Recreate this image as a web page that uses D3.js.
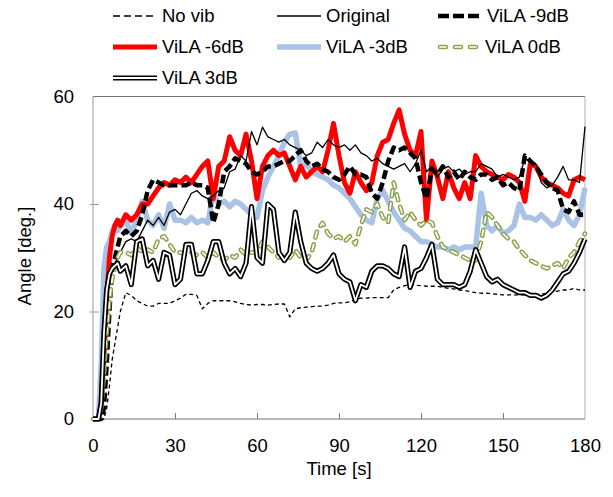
<!DOCTYPE html>
<html><head><meta charset="utf-8">
<script src="https://cdn.jsdelivr.net/npm/d3@7"></script>
<style>
html,body{margin:0;padding:0;background:#fff;}
svg{display:block;}
text{font-family:"Liberation Sans",Arial,sans-serif;fill:#000;}
</style></head>
<body>
<svg id="chart" width="613" height="497"></svg>
<script>
// ---- data (time in s, angle in deg.) ----
const time = [0,1,2,3,4,5,6,7,8,9,10,
  12,14,16,18,20,22,24,26,28,30,
  32,34,36,38,40,42,44,46,48,50,
  52,54,56,58,60,62,64,66,68,70,
  72,74,76,78,80,82,84,86,88,90,
  92,94,96,98,100,102,104,106,108,110,
  112,114,116,118,120,122,124,126,128,130,
  132,134,136,138,140,142,144,146,148,150,
  152,154,156,158,160,162,164,166,168,170,
  172,174,176,178,180];

const noVib = [0,0,0,0,0,2,6,11,14,17,20,
  23.5,23,22,21.5,21,21,21.5,21.5,21.5,22,
  22.5,23.2,23.2,23,20.5,21.5,22,22,22,22,
  21.8,21.5,21.3,21.2,21.3,21.3,21.2,21.3,21.4,21.4,
  19,20.5,20.7,20.8,20.9,21,21,21.2,21.5,21.6,
  21.6,21.8,22.2,22.5,22.5,22.6,22.6,22.6,22.6,24,
  24.5,24.8,25,24.9,24.8,24.7,24.7,24.7,24.5,24.3,
  24.2,24,23.9,23.7,23.5,23.4,23.4,23.3,23.2,23.1,
  23.1,23.1,23.1,23.1,23.1,23.2,23.2,23.4,23.6,23.8,
  24,24,24.3,24,24];

const original = [0,0,0,1,14,23,26,28,29,30,31,
  33,33.5,33,35,37,36,37.5,36,38.5,39,
  38,40,42,42.5,41.5,41,41.5,42.5,43,46,
  46.5,49,48,53.5,51,54.3,52.5,52,51.5,52,
  51,50.5,50,49,49.5,51.5,50.5,52,51,50.5,
  51,50,51,49.5,49,48,48.5,47.5,47,46.5,
  47,47.5,46,47.5,50,46,47,45,46.5,47,
  46,46.5,45.5,46,46,47.5,47,46.5,45,45.5,
  45,44.5,45,48.5,48,47.5,44,43,43.5,45,
  47,44.5,44.5,44,54.4];

const vila9 = [0,0,0,0,2,10,20,28,30,32,34,
  35,34,35,38,42.5,44.5,44,43.5,43.5,43.5,
  43.5,43.5,44,43.5,43.5,43,36.5,40,46,47,
  48.5,48,47.5,46,45.5,46,47,47,47.5,48,
  48,49,50,48,47,47.5,46.5,46,45,44.5,
  45.5,47,45.5,45.5,45,42,41,44,48,50.5,
  50,50.5,49.5,48.5,44,41,46.5,45.5,47,45,
  46,44.5,46,45,44.5,45.5,45.5,44.5,45,43.5,
  44,43,42.5,49,48,47,45.5,44,43,42.5,
  39,38.5,40.5,38,38];

const vila6 = [0,0,0,3,12,22,30,34,36,37,36,
  38,37,38,40,40,41.5,43,44,43.5,44.5,
  44,45,44,45.5,47,48,41,47,48,52.5,
  50,49,53,48,41,47,49,50,49,49.5,
  47,44.5,47,45,46,47,46,50,55,49,
  44,42,46,44,42.5,44,49,51.5,52,55,
  57.5,53,50,49,53.5,37,48,45,41,46,
  43,41,44,41,49,47,46,45.5,45,44.5,
  45.5,45,44,40.5,47.5,47,45,44,43.5,43,
  42,41.5,44.5,45,44.5];

const vila3m = [0,0,0,10,28,32,33,35,36,35,36,
  37,34.5,37,40.5,37,36,38,35.5,40,37,
  37,36.5,37.5,36.5,37,36.5,42,40,40.5,39.5,
  40.5,40,39,38,37.5,42.5,45,47,49,51.5,
  53,53.2,47,47.5,46,45.5,45,44.5,43.5,43,
  42,41,39.5,38,37,36.5,41,42.5,40.5,38.5,
  37,35.5,35,34,33,33,32.5,32,32,31.5,
  32,31.5,32,32,32,42,36,35,36,34.5,
  35,36,40,37.5,37.5,37,38,37,36,36.5,
  39,37,36,38,43];

const vila0 = [0,0,0,2,8,16,22,26,28,30,31,
  31,30.5,32,31,31.5,31,33.5,34,32.5,31,
  31,30.5,31,30.5,31,30,31,30,29.5,30.5,
  30,31.5,30.5,31,31,33,32,31,30,30.5,
  30,31.5,30,29.5,31,35,36.5,34.5,33.5,34,
  33,34,32.5,36,39,38.5,40,37.5,36.5,44,
  40,37,38.5,37,36,37,36.5,34,32,31.5,
  31,30.5,30,29.5,29.5,33,38.5,37.5,36,34.5,
  33.5,33,31.5,30.5,29.5,29,28.5,28,28.5,29,
  28,30,31,33,34.5];

const vila3 = [0,0,0,3,16,24,27,28,28.5,29,27.5,
  28.5,25,33,33.5,28.5,29.5,26,31,30.5,25,
  26,32.5,32.5,27,27,29.5,33,33,29,27,
  28,26.5,29,39.5,30,29,40,39,31,29.5,
  31,38.5,33,29,28,27.5,28,29,30.5,27,
  26,25.5,22,25,24.5,27.5,28.5,28.5,28,27,
  26.5,32,24.5,27.5,28,30,32.5,26,25,25,
  25,24.5,25,27.5,31.5,29,26.5,25.5,26,25,
  24.5,24,23.5,23.5,23,23,22.5,23,24,25.5,
  27,27.5,29,31,33.5];

const seriesNames = ["No vib","Original","ViLA -9dB","ViLA -6dB","ViLA -3dB","ViLA 0dB","ViLA 3dB"];
const xTicks = [0,30,60,90,120,150,180];
const yTicks = [0,20,40,60];

// ---- layout ----
const svg = d3.select("#chart");
const x = d3.scaleLinear().domain([0,180]).range([93,585]);
const y = d3.scaleLinear().domain([0,60]).range([419,96.5]);
const FS = "18.5px";

const styles = {
  "No vib":    [{stroke:"#000", w:1.3, dash:"4,3"}],
  "Original":  [{stroke:"#000", w:1.3}],
  "ViLA -9dB": [{stroke:"#000", w:4.5, dash:"9,4"}],
  "ViLA -6dB": [{stroke:"#ff0000", w:5}],
  "ViLA -3dB": [{stroke:"#a9c2e6", w:5.5}],
  "ViLA 0dB":  [{stroke:"#8aa24a", w:4.6, dash:"6,7", cap:"round"},{stroke:"#fff", w:1.7, dash:"6,7", cap:"round"}],
  "ViLA 3dB":  [{stroke:"#000", w:5.2},{stroke:"#fff", w:1.8}]
};
const dataByName = {
  "No vib": noVib, "Original": original, "ViLA -9dB": vila9, "ViLA -6dB": vila6,
  "ViLA -3dB": vila3m, "ViLA 0dB": vila0, "ViLA 3dB": vila3
};

// axes
const xAxis = d3.axisBottom(x).tickValues(xTicks).tickSize(-6).tickPadding(20).tickFormat(d3.format("d"));
const gx = svg.append("g").attr("transform","translate(0,419)").call(xAxis);
gx.select(".domain").remove();
gx.selectAll(".tick line").attr("stroke","#777").filter(d=>d===0||d===180).remove();
gx.selectAll("text").style("font-size",FS).attr("fill","#000");

const yAxis = d3.axisLeft(y).tickValues(yTicks).tickSize(3).tickPadding(16).tickFormat(d3.format("d"));
const gy = svg.append("g").attr("transform","translate(93,0)").call(yAxis);
gy.select(".domain").remove();
gy.selectAll(".tick line").attr("stroke","#999").attr("x1",6).filter(d=>d===0||d===60).remove();
gy.selectAll("text").style("font-size",FS).attr("fill","#000");

// plot frame
svg.append("line").attr("x1",x(0)).attr("x2",x(180)).attr("y1",y(60)).attr("y2",y(60)).attr("stroke","#777").attr("stroke-width",1.2);
svg.append("line").attr("x1",x(180)).attr("x2",x(180)).attr("y1",y(60)).attr("y2",y(0)).attr("stroke","#bbb").attr("stroke-width",1.2);
svg.append("line").attr("x1",x(0)).attr("x2",x(0)).attr("y1",y(60)).attr("y2",y(0)).attr("stroke","#aaa").attr("stroke-width",1.2);
svg.append("line").attr("x1",x(0)).attr("x2",x(180)).attr("y1",y(0)).attr("y2",y(0)).attr("stroke","#777").attr("stroke-width",1.2);

// series lines
const line = d3.line().x((d,i)=>x(time[i])).y(d=>y(d));
const drawOrder = ["ViLA -3dB","ViLA -6dB","ViLA -9dB","Original","No vib","ViLA 0dB","ViLA 3dB"];
drawOrder.forEach(name=>{
  styles[name].forEach(s=>{
    svg.append("path").datum(dataByName[name])
      .attr("d",line).attr("fill","none")
      .attr("stroke",s.stroke).attr("stroke-width",s.w)
      .attr("stroke-dasharray",s.dash||null)
      .attr("stroke-linecap",s.cap||"butt")
      .attr("stroke-linejoin","round");
  });
});

// axis titles
svg.append("text").attr("x",339).attr("y",475).attr("text-anchor","middle").style("font-size",FS).text("Time [s]");
svg.append("text").attr("transform","translate(31,256) rotate(-90)").attr("text-anchor","middle").style("font-size",FS).text("Angle [deg.]");

// legend
const legPos = [
  {lx:113, ly:16}, {lx:277, ly:16}, {lx:438, ly:16},
  {lx:113, ly:47}, {lx:277, ly:47}, {lx:438, ly:47},
  {lx:113, ly:78}
];
seriesNames.forEach((name,i)=>{
  const p = legPos[i];
  const g = svg.append("g").attr("transform",`translate(${p.lx},${p.ly})`);
  styles[name].forEach(s=>{
    g.append("line").attr("x1",s.cap==="round"?2:0).attr("x2",s.cap==="round"?43:44).attr("y1",0).attr("y2",0)
      .attr("stroke",s.stroke).attr("stroke-width",s.w)
      .attr("stroke-dasharray",s.dash ? (name==="No vib"?"7,4":(name==="ViLA -9dB"?"11,4":"6,9")) : null)
      .attr("stroke-linecap",s.cap||"butt");
  });
  g.append("text").attr("x",name==="ViLA 0dB"?47:49).attr("y",0).attr("dy","0.35em").style("font-size",FS).text(name);
});
</script>
</body></html>
